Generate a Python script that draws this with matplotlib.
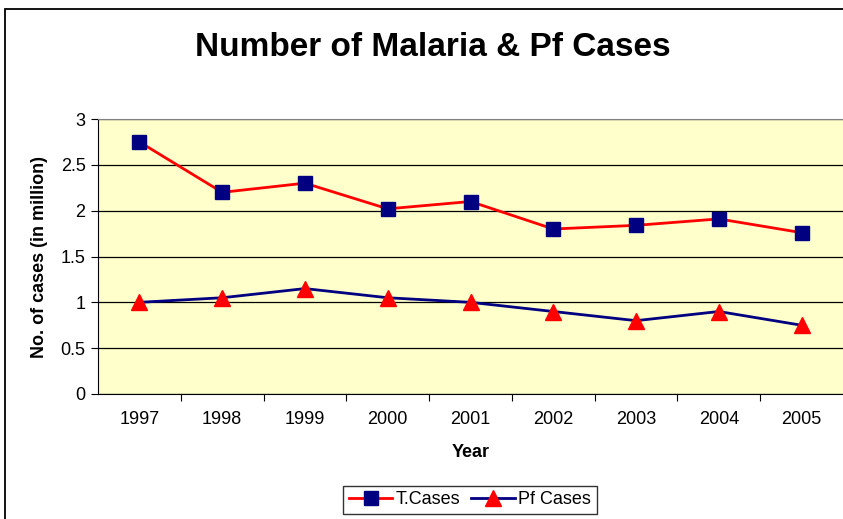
import matplotlib
matplotlib.use("Agg")
import matplotlib.pyplot as plt
from matplotlib.patches import Rectangle

years = ["1997", "1998", "1999", "2000", "2001", "2002", "2003", "2004", "2005"]
t_cases = [2.75, 2.2, 2.3, 2.02, 2.1, 1.8, 1.84, 1.91, 1.76]
pf_cases = [1.0, 1.05, 1.15, 1.05, 1.0, 0.9, 0.8, 0.9, 0.75]

plt.rcParams["font.family"] = ["Liberation Sans", "DejaVu Sans"]

fig = plt.figure(figsize=(8.43, 5.19), dpi=100)
# outer chart frame
fig.add_artist(Rectangle((5 / 843, -0.05), 1.0, 1 - 9 / 519 + 0.05, transform=fig.transFigure,
                         fill=False, edgecolor="black", linewidth=1.3))

ax = fig.add_axes([98 / 843, 125 / 519, 745 / 843, 275 / 519])
ax.set_facecolor("#FFFFCC")
x = list(range(len(years)))

ax.plot(x, t_cases, color="#FF0000", lw=2, marker="s", ms=10, mfc="#000080", mec="#000080",
        label="T.Cases", zorder=3)
ax.plot(x, pf_cases, color="#000080", lw=2, marker="^", ms=12, mfc="#FF0000", mec="#FF0000",
        label="Pf Cases", zorder=3)

ax.set_xlim(-0.5, len(years) - 0.5)
ax.set_ylim(0, 3)
ax.set_yticks([0, 0.5, 1, 1.5, 2, 2.5, 3])
ax.set_yticklabels(["0", "0.5", "1", "1.5", "2", "2.5", "3"])
ax.yaxis.grid(True, color="black", lw=0.9)
ax.set_axisbelow(True)

ax.set_xticks([i + 0.5 for i in x[:-1]])
ax.set_xticklabels([])
ax.set_xticks(x, minor=True)
ax.set_xticklabels(years, minor=True)
ax.tick_params(axis="x", which="major", direction="out", length=5, color="black")
ax.tick_params(axis="x", which="minor", length=0, pad=12, labelsize=13)
ax.tick_params(axis="y", direction="out", length=5, labelsize=13, pad=4)

ax.spines["top"].set_color("#808080")
ax.spines["right"].set_visible(False)
ax.spines["left"].set_color("black")
ax.spines["bottom"].set_color("black")

ax.set_xlabel("Year", fontsize=13, fontweight="bold", labelpad=12)
ax.set_ylabel("No. of cases (in million)", fontsize=13, fontweight="bold", labelpad=9)

fig.text(433 / 843, 1 - 48 / 519, "Number of Malaria & Pf Cases", ha="center", va="center",
         fontsize=24, fontweight="bold")

leg = fig.legend(loc="center", bbox_to_anchor=(470 / 843, 1 - 500 / 519), ncol=2, fontsize=13,
                 frameon=True, fancybox=False, edgecolor="black", handlelength=2.4,
                 columnspacing=0.6, handletextpad=0.2, borderpad=0.3)
leg.get_frame().set_linewidth(1)

fig.savefig("out.png", dpi=100)
